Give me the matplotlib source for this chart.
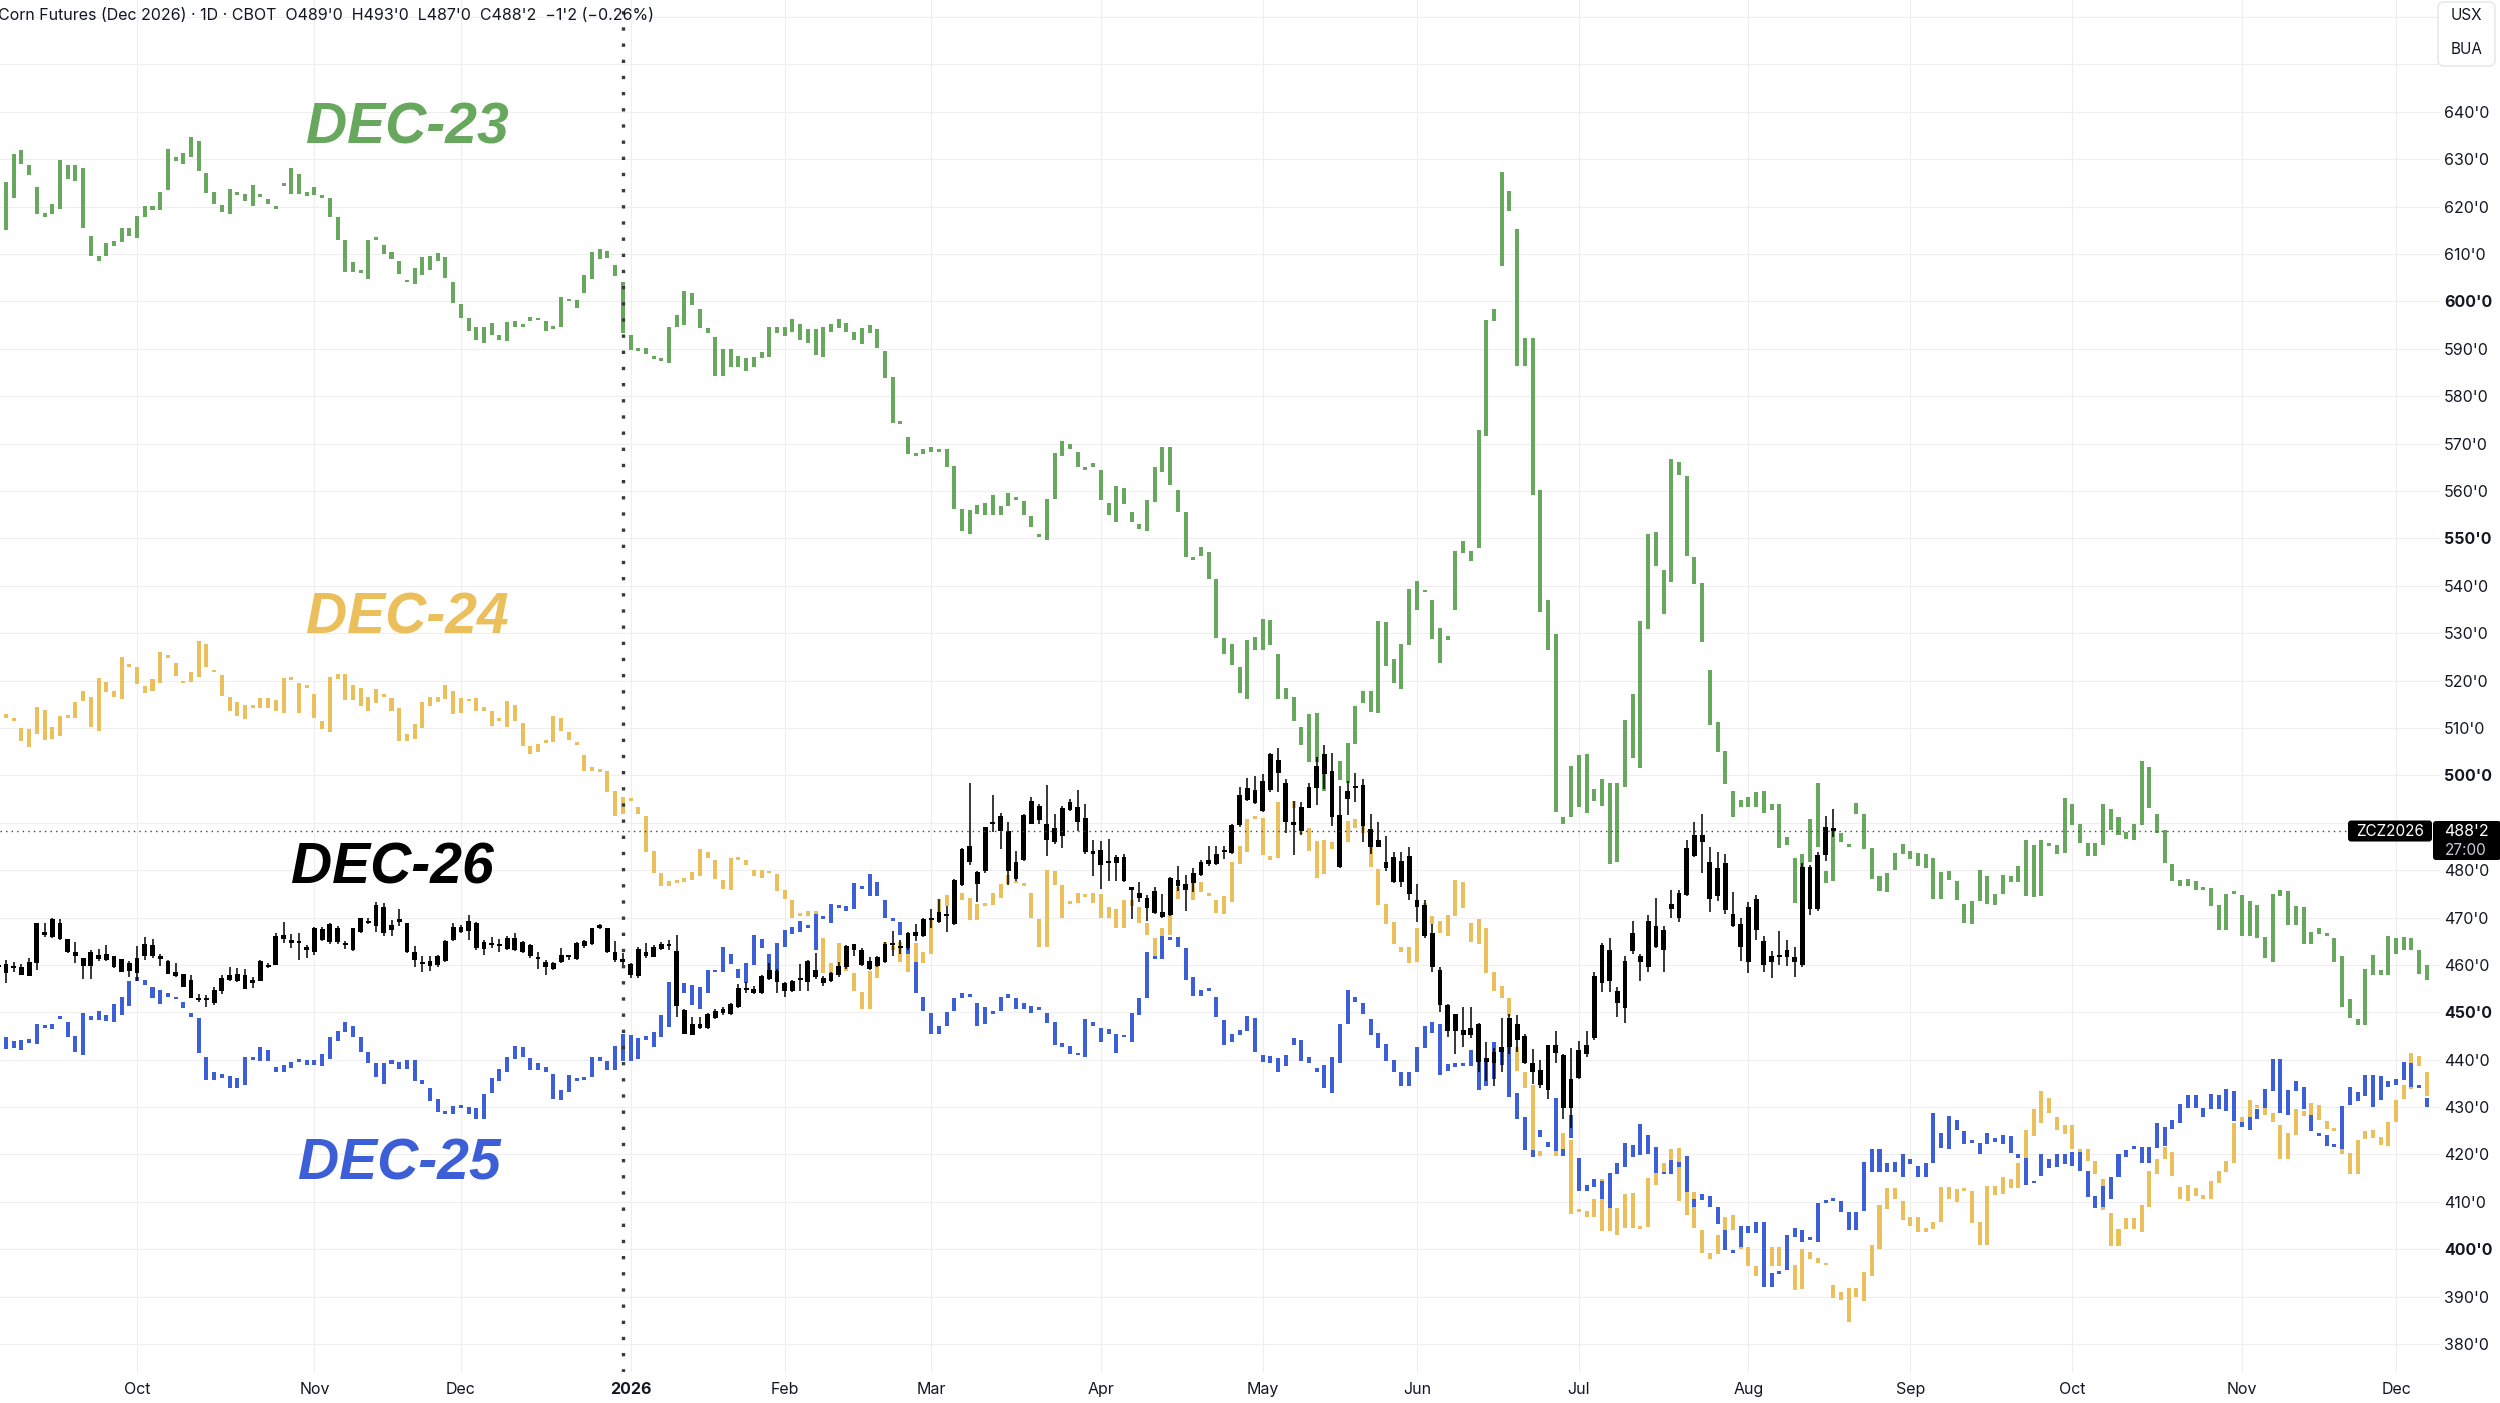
import numpy as np
import pandas as pd
import matplotlib
matplotlib.use("Agg")
import matplotlib.pyplot as plt
from matplotlib.patches import FancyBboxPatch
from matplotlib.transforms import IdentityTransform

plt.rcParams['font.family'] = ['Inter', 'DejaVu Sans']

# ---------------- data ----------------
title = "Corn Futures (Dec 2026) · 1D · CBOT  O489'0  H493'0  L487'0  C488'2  \u22121'2 (\u22120.26%)"
symbol = "ZCZ2026"
last_price = 488.25
last_price_label = "488'2"
countdown = "27:00"
unit_labels = ["USX", "BUA"]
series_names = ["DEC-23", "DEC-24", "DEC-25", "DEC-26"]

start_date = "2025-09-05"
end_date = "2026-12-31"
holidays = ["2025-11-27", "2025-12-25", "2026-01-01", "2026-01-19", "2026-02-16",
            "2026-04-03", "2026-05-25", "2026-06-19", "2026-07-03", "2026-09-07", "2026-11-26"]
month_keys = ["2025-10", "2025-11", "2025-12", "2026-01", "2026-02", "2026-03", "2026-04",
              "2026-05", "2026-06", "2026-07", "2026-08", "2026-09", "2026-10", "2026-11", "2026-12"]
month_labels = ["Oct", "Nov", "Dec", "2026", "Feb", "Mar", "Apr", "May", "Jun", "Jul",
                "Aug", "Sep", "Oct", "Nov", "Dec"]
year_divider_date = "2025-12-31"
price_levels = [v for v in range(380, 641, 10) if v != 490]
bold_levels = [400, 450, 500, 550, 600]
grid_levels = list(range(370, 661, 10))

# DEC-23 (open, close)
dec23_oc = [
(617,616),(615,625.1),(621.8,631.1),(631.9,629.1),(628.8,626.6),(624.2,618.5),(618.6,617.9),(618.5,620.6),(619.6,629.8),(628.8,625.8),
(625.5,628.8),(628.2,615.4),(613.7,609.5),(609.6,608.6),(609.5,612.4),(611.6,612.8),(612.6,615.4),(615.4,613.7),(613.3,618),(617.9,620.1),
(620.1,619.3),(619.3,623),(623.5,632.1),(630.5,629.7),(629.1,631.4),(630.4,634.6),(633.9,627.5),(627.2,622.9),(623,620.5),(620.4,618.9),
(618.5,623.7),(623,622.5),(622.6,621.1),(620.1,624.6),(622.3,622.1),(621.6,620.6),(620.2,619.6),(624.4,624.9),(622.7,628.1),(626.9,622.7),
(623,622.3),(622.5,624.2),(622.2,621.9),(621.9,617.9),(617.8,613),(613,606.3),(606.3,608.4),(606.5,606),(604.7,613),(613.3,613),
(611.9,610),(610.4,608.9),(608.6,605.8),(604.2,604),(603.6,607),(605.6,609.3),(609.6,606.7),(608.6,610.2),(609.3,604.9),(604.2,599.6),
(599.5,596.5),(596.5,593.8),(594.5,591.8),(591.2,594.7),(595.4,593),(593,591.8),(591.6,595.6),(595.8,594.5),(594.8,594.6),(595.8,596.7),
(596.4,596),(595.8,593.7),(594.7,594.2),(594.5,600.9),(600.6,600),(600.4,598.6),(601.8,605.6),(604.7,610.5),(611,608.9),(609.1,610.7),
(607.7,605.3),(604.2,593.3),(593,589.8),(589.8,589.6),(590.2,588.8),(588.1,587.8),(587.8,587.4),(587.1,594.5),(594.5,597.1),(595,602.3),
(601.7,599.2),(598.5,594.4),(594.3,593.3),(592.4,584.2),(584.2,589.9),(589.9,586.2),(588.5,586.2),(585.4,588),(586.2,588.2),(588,589.4),
(588.2,594.7),(594.7,593.3),(592.7,594.7),(596.3,593.6),(595.2,591.8),(594.1,591.3),(594.1,588.7),(588.2,594.7),(593.6,595.2),(594.4,596.3),
(595.5,593.6),(593.6,591.8),(591,594.3),(595,593.3),(594.1,590.1),(589.5,583.8),(584,574.4),(574.3,574.1),(571.4,567.9),(567.8,567.4),
(567.8,568.8),(569.2,568.3),(568.9,568.3),(568.9,565.1),(565.2,556.1),(556.2,551.6),(551,556),(555.2,557),(557.4,554.9),(554.9,559.1),
(556.8,554.9),(556.8,559.6),(558.3,558.1),(557.9,554.9),(554.8,552.4),(550.9,550.2),(549.6,558.4),(558.4,568.1),(567.4,570.6),(570,568.8),
(568.3,565.1),(564.7,564.5),(565,565.8),(564.4,558.1),(557.4,554.9),(553.5,561),(560.7,557.2),(555.6,553.5),(553,551.9),(551.6,558.2),
(557.7,565),(564,569.2),(569.2,561.2),(560.2,555.6),(555.6,546),(546,545.4),(546.2,548.1),(547.2,541.5),(541.5,528.9),(528.9,525.7),
(527.7,523.2),(522.9,517.4),(516.2,528.5),(526.5,529.1),(526.4,532.9),(532.8,527.5),(525.5,516.2),(518.5,516.2),(516.6,511.4),(510.2,506.4),
(512.9,502.9),(513.2,502.9),(502.9,496.6),(500.5,497.5),(499,503),(498.4,506.9),(506.6,514.6),(515.2,517.8),(517.8,513.4),(513.2,532.5),
(532.3,523.1),(524.5,519.5),(518.3,527.8),(527.5,539.3),(541.1,534.8),(538.9,538.6),(537.1,528.8),(531.1,523.8),(529.5,528.5),(534.8,547.4),
(549.4,547),(547.4,545.2),(548,572.9),(571.6,596),(595.8,598.5),(607.5,627.4),(623.4,619.1),(615.2,586.3),(586.3,592.3),(592.3,559.2),
(560.2,534.5),(537.1,526.5),(529.8,492.3),(491.3,489.7),(491.3,501.9),(504.2,493.4),(492,504.6),(497.2,494.6),(493.6,499.2),(498.4,481.3),
(481.7,498.4),(497.6,511.6),(503.6,517.2),(501.6,532.5),(530.8,551),(551.4,544.2),(543.4,534.1),(540.8,566.7),(566.2,563.4),(563.2,546.2),
(546,540.3),(540.5,528.1),(522.3,510.6),(511.2,504.9),(505.2,498.2),(496.6,491.3),(494.9,493.4),(493.4,495.4),(496.4,493.4),(492,496.6),
(494,492.7),(494,484.7),(487,485.3),(482.5,473.1),(477.2,483.4),(481.8,490.8),(484.8,498.3),(479.9,477.2),(477.6,488.2),(487.9,485.9),
(485.5,484.8),(491.9,494.2),(491.9,484.4),(484.7,478.2),(478.8,475.5),(475.3,479.3),(480,483.6),(485.6,483.4),(484,482.4),(483.6,480.8),
(480.4,483.4),(482.6,473.9),(473.9,479.6),(479.8,477.9),(477.7,473.7),(472.9,468.8),(468.7,473.5),(473.5,480),(478.8,472.9),(472.7,475),
(475,479),(478.8,477.4),(477.4,480.9),(474.5,486.3),(485.2,474.3),(474.5,486.4),(485.8,485),(485.2,483.4),(483.6,495.3),(493.9,489.5),
(489.7,485.8),(485.8,483),(483,485.8),(485.2,493.9),(492.9,488.4),(491.3,487.4),(488,486.6),(486.3,489.7),(489.5,503),(501.8,493.1),
(491.9,487.9),(488.4,481.6),(481.2,477.7),(477.9,476.7),(476.7,478.2),(477.7,475.8),(476.3,475.8),(476.3,472.5),(472.7,467.4),(467.4,475),
(475.1,474.9),(474.7,466.1),(466.2,473.5),(472.7,465.6),(465.8,461.4),(460.7,475),(475.8,474.5),(475.5,468.5),(468.5,472.5),(472.3,464.5),
(464.5,467),(467.7,466.6),(466.3,466.1),(465.6,460.7),(461.8,451.1),(452.9,448.9),(448.5,447.3),(447.3,459.1),(457.8,462),(459,457.8),
(457.8,466.2),(465.6,462.2),(463.2,465.8),(465.6,463.2),(463.2,458),(459.9,456.9),
]

# DEC-24 (open, close)
dec24_oc = [
(513.3,508),(512.9,512.2),(512.1,511.5),(510,507.3),(505.9,509.8),(508.7,514.4),(513.8,507.5),(507.7,510.1),(508.4,512.6),(512.6,512.1),
(512.2,515.4),(515.6,517.7),(516.5,510.1),(509.4,520.5),(519.6,517.5),(517.7,516.5),(516.1,524.9),(523.1,522.8),(522.8,519.3),(518.9,517.3),
(517.7,520.3),(519.4,526.1),(525.4,524.7),(523.8,521),(520,519.4),(519.6,521.7),(520.8,528.4),(527.7,522.8),(522.1,521.7),(521.2,516.8),
(516.5,513.6),(515.4,512.6),(514.9,511.9),(514.5,514.3),(514.2,516.3),(516.3,514.2),(515.8,513.5),(513.1,520.6),(520.5,520.1),(519.4,513.1),
(519.1,518.4),(517.2,512.2),(511.5,509.8),(509.1,520.7),(521.4,520.3),(521.4,515.8),(519.1,515.8),(518.4,514.7),(516.5,513.6),(515.2,518.2),
(517,516.6),(516.3,513.6),(514.2,507.2),(507.3,508.7),(507.7,510.8),(510,515.4),(514.7,516.5),(516.5,515.4),(516.1,519.1),(517.7,512.9),
(513.1,516.3),(516.1,515.6),(516.3,513.6),(514.5,513.6),(513.6,510.5),(512.2,511.5),(510.3,515.6),(514.9,511.4),(511,506.1),(506.1,504.4),
(504.9,506.6),(507.3,506.8),(507,512.6),(512.2,509.3),(509.1,507.5),(507,506.3),(504.2,501),(501.7,501),(501.4,500.7),(501,496.5),
(496.7,491.5),(495.4,491.9),(494.9,494.6),(493.3,491.9),(491.5,483.8),(484,479.3),(479.3,476.6),(477.7,476.6),(477.3,478),(477.5,478.4),
(478,479.6),(478.7,484.5),(483.8,482.6),(482.2,478.2),(478,476.1),(475.9,482.6),(482.3,482.1),(482.1,481),(480.1,478.7),(478.4,480),
(479.6,479.3),(479.1,475.6),(475.8,474),(473.8,470),(471,470.3),(470.3,471.4),(471.4,465.9),(465.6,458.2),(458.2,460.3),(459.8,464.7),
(460.7,458.7),(458.2,454.5),(454.3,450.6),(450.8,458.7),(457.3,460.3),(460.9,464.9),(464,463.2),(460.6,464.9),(463.5,458.5),(460.6,464.7),
(462.8,460.4),(462.3,469.6),(469.6,474),(474.7,472.4),(474.7,475.4),(475.1,473.6),(474.2,469.4),(469.4,472.8),(472.7,472.5),(472.6,475.2),
(474.2,477),(477,478.9),(477.4,477.2),(476.9,476.7),(475.2,469.8),(469.6,463.8),(463.8,480.1),(479.8,476.8),(476.8,469.8),(473.3,472.8),
(473.1,475.2),(474.9,474.4),(473.1,475.1),(474.9,470),(470,472.2),(471.7,467.7),(467.7,473.8),(473.8,472.4),(472.2,468.9),(468.9,466.3),
(465.6,461.3),(461.6,467.7),(466.3,470.5),(474,476.5),(476.8,476.1),(473.6,477.5),(477.5,475.4),(475.2,474.5),(473.8,471),(470.8,474.5),
(473.3,481.7),(481.2,485),(483.8,490.7),(491,490.8),(490.9,483.1),(482.9,482.1),(482.5,494.4),(491.2,490.4),(493.2,494.6),(490.4,487.6),
(488.9,484),(486.1,478.4),(479.1,486.4),(485.9,484.4),(486,489),(485.9,490.4),(490.7,488.9),(489.3,487.8),(485.2,480.6),(480.3,472.7),
(472.9,468.6),(469,464.4),(463.7,462.8),(460.5,463.8),(460.7,467.8),(469,473),(470.3,468.6),(469.3,466.8),(466.1,470.6),(470.3,478),
(477.4,472.1),(468.8,464.8),(464.4,469.6),(467.8,458.3),(458.6,454.5),(455.5,453),(453.1,449.2),(442.6,437.7),(437.5,434.1),(434.7,420.7),
(420.7,419.6),(422.4,421.5),(421.5,419.6),(419.8,424.5),(423.1,407.5),(408.3,407.9),(408.1,406.8),(406.8,410.5),(414.8,403.8),(403.8,415.8),
(408.7,403),(404.5,411.7),(411.8,404.5),(404.7,404.3),(404.7,415.1),(413.6,417.3),(416.1,418.1),(418.5,421.1),(421.3,410.2),(412.3,407.2),
(404.5,412.1),(404.1,399.2),(399.2,398),(398.9,403),(402,406.8),(407.2,404),(403.5,400),(400.5,396.5),(396.5,394.3),(394,401),
(400.5,396.5),(396.5,400.4),(400.5,395.7),(396.6,391.5),(391.7,400),(399.5,398),(398.1,397.2),(397.2,396.6),(392.5,389.8),(391,389.2),
(391.9,384.7),(391.8,389.9),(389.1,395.3),(394.3,400.8),(400,409.3),(408.5,412.9),(412.9,410.5),(410.1,406.1),(406.9,405),(406.9,403.6),
(404.4,403.6),(405.8,404.2),(405.8,413.1),(413.1,410.5),(412.8,409.9),(412.9,412.3),(412.3,405.5),(405.8,401),(401,413.3),(413.3,411.5),
(411.7,415.3),(414.9,412.9),(412.9,418.2),(413.7,425.2),(423.8,429.5),(426.7,433.3),(431.9,428.7),(427.9,425.2),(426.3,424.4),(426.3,421.2),
(421.2,420.2),(421.2,418.7),(418.7,415.8),(414.9,408.2),(407.7,400.6),(400.6,404.2),(404.2,406.6),(406.6,404.2),(403.6,409.3),(408.9,416.6),
(415.8,419),(419,421.6),(420.6,415.5),(413.1,410.7),(410.1,413.6),(412.9,411.3),(411.5,410.7),(410.7,414.4),(413.9,416.6),(416.2,418.6),
(418.2,426.7),(425.8,427.9),(427.9,431.5),(430.3,429.9),(429.9,428.4),(428.7,426.8),(426.3,419),(419,424.6),(424.2,429.5),(429.2,428.1),
(427.3,430.9),(430.5,427.3),(427.1,425.4),(425.4,425),(424.6,420.2),(420.4,415.8),(415.8,423),(423.3,425),(423.4,425.2),(423.6,422),
(421.8,426.8),(426.8,431.4),(431.7,434.7),(433.9,441.4),(440.8,438.6),(437.3,432.3),
]

# DEC-25 (open, close)
dec25_oc = [
(445.3,443.5),(444.8,442.3),(443.9,442.5),(444.1,442.1),(444.4,443.5),(443.4,447.6),(447.2,446.7),(446.4,447.6),(448.8,448.6),(447.9,444.8),
(444.9,441.6),(440.9,449.9),(449.3,448.3),(448.3,450.2),(449.5,448.1),(447.9,451.8),(449.5,453.2),(451.4,456.5),(457.4,456.7),(456.9,455.8),
(455.3,453),(454.6,451.8),(454.1,453.2),(452.9,452.7),(452.1,450.9),(449.9,449),(448.8,441.4),(440.6,435.8),(437.4,435.8),(436.9,436.2),
(436.5,434.1),(434.1,436.2),(434.6,440.6),(440.6,440),(439.7,442.7),(442.1,439.7),(438.5,437.4),(437.4,438.8),(438.3,439.5),(439.8,439.6),
(438.8,440),(440,438.8),(438.6,441.3),(440.2,444.8),(443.9,446),(445.8,447.9),(447.1,444.8),(444.8,441.6),(441.6,439.2),(439.3,436.4),
(434.9,439.3),(440,439),(439.5,438.1),(438.1,440),(440,435.5),(435.8,434.8),(434.1,431.3),(431.6,428.9),(428.8,428.6),(428.5,430.2),
(430.4,429.9),(430.1,428.5),(429.9,427.4),(427.4,432.7),(433,436.2),(435.5,438.1),(437.4,440.6),(440.2,442.8),(442.7,440.6),(440.4,437.8),
(439.2,437.8),(438.5,437.4),(436.9,431.8),(431.5,433.6),(433.2,436.7),(436.2,435.5),(435.8,436.2),(436.4,440.6),(440.6,439.7),(439.7,437.8),
(437.8,442.8),(439.7,445.5),(445.3,439.7),(440.2,444.6),(445,444.1),(445.9,442.6),(444.8,449.4),(446.9,456.4),(456.4,451.5),(454.1,456.2),
(455.7,451.5),(450.6,455.4),(454,458.9),(458.6,458.4),(458.5,463.7),(462.4,460.2),(459.2,457.3),(456.2,460.3),(459.9,466.3),(465.4,463.5),
(462.3,458.2),(456.4,464.7),(463.7,467.3),(466.6,468),(467,469.3),(468.4,467.7),(470.7,463.2),(469.9,469.7),(468.9,472.9),(472.6,472.1),
(471.4,472.4),(471.9,477.2),(476.2,476),(474.5,479.1),(477.5,474.5),(473.8,470),(469.5,469.3),(469.1,466.3),(465.2,462.3),(460.6,454),
(453.3,450.3),(449.8,445.5),(445.5,447.1),(447.1,450.1),(450.3,453.1),(453.1,454.1),(453.5,453.3),(452,447.1),(447.5,451.2),(450.1,449.6),
(450.3,453.3),(453.8,453.1),(453.1,450.6),(452,450.6),(451.3,449.9),(450.7,450.5),(449.9,447.8),(448,443.1),(443.6,442.6),(442.9,441.3),
(441.1,440.9),(440.6,448.5),(448,447.1),(446.6,443.8),(446.4,445.4),(445.4,441.5),(444.9,444.7),(443.8,449.8),(449.4,453.1),(453.1,462.8),
(461.4,461.2),(461.3,466.1),(465.5,465.3),(463.7,465.9),(463.5,456.9),(457.5,453.4),(454.8,453.4),(454.8,454.5),(453.3,449.1),(448.3,443.1),
(443.8,445.4),(446.2,445.2),(446.1,449.2),(448.7,441.7),(441,439.6),(439.4,440.7),(440.3,437.3),(438.7,440.9),(443,444.5),(444.2,439.7),
(440.5,439.2),(438.2,437.3),(438.8,434.1),(432.9,440.5),(439.2,447.5),(447.5,454.6),(453.3,452.2),(452,449.7),(448.5,445.2),(445.7,442.4),
(443.3,439.7),(439.9,437.3),(437.3,434.4),(434.4,437.3),(437.3,442.7),(442.4,447.2),(448,445.7),(447.5,436.7),(439,437.7),(438.4,439.2),
(439.4,438.7),(438.7,442),(442,433.7),(434.4,440.3),(443.7,435.9),(438.8,442.7),(442.6,432.2),(432.9,427.5),(427.9,420.9),(420.9,419.4),
(423.7,425.1),(422.6,421.5),(420.7,432),(421.1,419.6),(423.4,428.4),(419.2,412.3),(413.6,412.3),(414.8,413.2),(414.3,410.5),(408.7,416),
(415.8,418.1),(417.3,422.4),(421.9,419.4),(419.8,426.4),(424.1,420.1),(421.6,416),(416.2,415.8),(415.8,418.8),(418.5,417.3),(419.6,412.1),
(410.5,409),(411.7,410.3),(411.3,409),(409,405.3),(404,399.8),(399.8,399.2),(400.4,405),(404.9,403.4),(403.4,405.7),(405.7,392.1),
(392.1,394.9),(395,394.8),(395.7,403),(404.5,402.6),(401.5,404),(402.3,401.9),(401.5,409.8),(409.9,409.7),(410.9,410.2),(410.2,407.8),
(407.8,404),(404,407.9),(408.1,418.5),(416.2,421.2),(421.2,416.2),(416.2,418.2),(418.4,416.2),(415.3,420.2),(419,417.9),(417.6,415.3),
(415.3,418.2),(418.2,428.7),(424.6,421.4),(421.2,428.1),(427.3,425.2),(424.9,422.2),(422.6,422.4),(422.5,420),(422.2,424.6),(423.4,422.6),
(422.2,424.1),(423.8,420.4),(420,419.2),(419.2,413.6),(414.5,413.9),(415.5,420.2),(419,417.1),(417.4,420.2),(420.2,417.9),(417.6,420.6),
(420.6,416.6),(416.6,411.1),(411.3,408.7),(408.9,413.3),(410.7,415.2),(415.2,420.2),(419.5,421),(421.6,421.2),(421.6,418.2),(418.2,421.6),
(421.4,426.7),(425.8,421.8),(425.4,427.3),(426.7,430.7),(429.9,432.5),(432.5,429.9),(429.9,427.9),(429.5,432.8),(432.5,429.5),(429.2,433.9),
(433.3,427.1),(426.8,425.7),(425.2,427.9),(427.5,429.5),(429.9,433.9),(433.3,440.2),(440.2,428.7),(428.3,433.5),(433.3,435.4),(434.3,429.7),
(428.3,424.9),(424.6,423.8),(424.2,421.8),(422.2,421.6),(421.2,430.3),(430.5,434.3),(433.1,431.3),(432.3,436.8),(436.8,430.1),(431.5,436.5),
(435.4,434.3),(434.7,436),(435.7,439.6),(439.4,434.3),(434.2,434),(432,430.1),
]

# DEC-26 (open, close, high, low)
dec26_ochl = [
(460,459.5,461,458.5),(460.1,458.2,461.1,456.1),(459.6,459.3,460.7,458.6),(459.6,457.9,460.2,457.9),(460.7,457.7,461.4,457.7),(468.9,460.5,468.9,458.9),(467,466.3,468.8,465.8),(469.6,465.8,469.8,465.6),(468.8,465.4,469.6,465.3),(465.4,462.8,465.4,462.6),
(462.8,461.9,464.9,460.5),(461.4,459.8,461.4,457),(462.8,459.8,463.2,457),(462.1,461.2,463.3,460.9),(462.3,461.1,464.2,460.9),(461.8,459.6,461.9,459.3),(461.2,458.4,461.2,458.4),(460.5,458.8,460.9,457.5),(461.4,458.2,463.9,456.5),(464.4,461.8,465.8,461.1),
(464.2,461.8,465.4,461.4),(461.8,461.2,462.3,459.8),(460.9,458.1,461.1,458.1),(458.6,457.7,460.4,457.5),(458.1,455.3,458.1,455.3),(456.8,453,457.9,453),(452.8,452.6,453.9,452.1),(452.8,452.6,453.7,451.2),(454.7,451.9,455.4,451.6),(457.2,454.4,457.9,453.9),
(457.9,456.8,459.6,456.5),(458.1,456.5,459.3,456.3),(457.9,454.9,459.1,454.9),(456.8,456.1,457.4,455.1),(460.9,456.7,461.1,456.5),(460,459.6,460.5,459.3),(466.1,460,466.8,460),(466.3,465.4,469.1,464.6),(464.9,464.7,466.5,463.5),(464.7,464.6,466.7,461.1),
(463.7,463.2,464.2,461.4),(467.7,462.8,467.9,462.1),(467.5,465.3,468.1,465.1),(468.6,464.9,468.9,464.4),(467.7,464.9,468.2,464.4),(464.4,464.2,465.1,463.3),(467.7,463.2,467.7,463),(469.8,467,470,466.8),(469.3,468.8,469.8,468.6),(472.6,468.2,473.3,467),
(472.3,466.7,473.1,466),(468.4,467.4,469.5,466),(469.6,469.1,471.7,468.2),(468.8,462.8,468.8,462.6),(462.8,461.1,464,459.6),(460.5,460.2,461.9,458.6),(460.9,459.8,461.8,458.8),(461.9,460,462.1,459.6),(465.1,460.9,465.3,460.7),(468.1,465.3,468.8,465.1),
(468.1,467,468.4,466.8),(469.3,467.2,470.5,465.3),(468.9,463.5,469.1,463.2),(464.9,463.3,465.3,462.1),(464.4,464.2,465.8,463.5),(464.2,463.9,465.4,462.8),(465.6,463.3,466,463.2),(465.6,463.2,466.7,463),(464.9,462.8,465.1,462.6),(464.2,461.8,464.4,461.4),
(461.4,461.2,462.8,459.1),(460.7,459.6,461.1,457.9),(460.4,459.1,460.7,458.9),(462.1,460.7,463.5,460.5),(461.8,461.6,462.1,461.1),(464.6,461.2,464.9,461.1),(465.1,463.9,465.3,463.5),(467.7,464.4,467.7,464.2),(468.4,467.7,468.6,467.5),(467.7,462.8,467.7,462.6),
(462.8,461.1,465.1,460.7),(460.9,460.7,462.5,459.6),(460.2,457.9,460.5,457.2),(463.3,457.7,463.7,457.2),(462.8,461.8,464.6,461.4),(463.7,461.7,464.2,461.6),(464.4,463.3,464.9,463.1),(464.2,464,465.2,463.2),(463,451.3,466.3,449.1),(450.5,445.5,450.8,445.4),
(447.5,445.2,449.1,445.2),(447.6,446.6,449.1,446.4),(449.6,446.6,449.9,446.4),(450.3,448.7,450.6,448.5),(450.6,449.8,451.2,449.4),(451.7,449.6,451.9,449.4),(455.2,451.2,455.9,451),(455,454.7,456.4,454),(455,454,455.5,453.8),(457.6,454,457.8,453.8),
(458.9,457.1,460.4,456.8),(458.7,456.4,459.2,454.1),(456.2,454.5,456.4,453.3),(456.6,454.5,456.9,454.3),(457.3,456.8,460.2,454.5),(460.9,456.4,461.1,454.5),(458.9,457.5,462.5,457.1),(457.3,456.1,457.6,455.5),(458.2,456.6,458.5,456.4),(459.7,457.8,460.6,457.5),
(463.9,459.6,464.2,459.2),(464.4,463.1,464.5,461.8),(463.1,459.9,463.5,459.7),(460.9,459.2,461.6,458.9),(461.6,459.7,461.8,459.6),(464.4,460.6,464.9,460.4),(464.4,464.2,467.2,461.8),(463.8,463.5,465.2,462.3),(466.8,463.5,467,463.2),(467,466.1,468.7,465.1),
(469.6,466.1,469.8,465.9),(469.6,469.4,471.9,467.7),(471.2,469.1,474,468.9),(470.5,470.3,472.4,467),(478,468.6,478.2,468.4),(484.5,476.8,484.7,476.6),(485,481.7,498.4,481),(479.6,477,479.8,473.3),(489,479.8,489.2,479.3),(490,489.8,495.8,488.1),
(491.4,488.3,492.1,484.5),(488.3,479.8,490.2,476.8),(481.7,478.2,484,477.7),(491.6,482.1,491.9,481.9),(494.6,489.8,495.4,489.7),(493.5,490.5,493.9,489.7),(489.8,486.4,497.9,482.9),(488.8,485.9,491.9,485.5),(493.2,487.1,493.5,484.7),(494.4,492.6,495.1,492.5),
(493.3,490.2,496.8,488.3),(490.9,483.8,494,483.3),(484,483.5,486.3,478.7),(484.3,481,486.2,476.1),(481.5,481.4,486.6,477.7),(482.8,481.5,483.1,477.7),(482.8,477.7,483.3,477.5),(476.1,475.9,476.5,469.6),(475.2,474.2,477.5,473.3),(474.2,472.1,474.7,469.3),
(475.6,471,476.5,470.7),(471.2,470.1,475,469.8),(478.4,470.5,478.6,470.3),(477.9,476.6,480.8,475.6),(477,475.9,478.9,471.4),(479.4,477.3,480.5,475.4),(481.7,478.9,482.2,478.7),(482.2,481.2,485,480.8),(483.3,481.2,485,481),(484.2,483.8,485,482.4),
(489.5,483.6,489.7,483.3),(495.8,489.5,497.5,489.2),(497.4,494.9,499.5,494.6),(496.8,494.2,499.8,494),(498.8,492.5,500.2,492.3),(504.4,496.8,504.7,496.5),(503.2,500.5,505.7,496.5),(498.3,490.2,499.2,487.9),(489.9,489.6,494.6,483.1),(493.4,488.2,494.4,487.4),
(497.6,493.2,498.3,493.1),(502,497.4,503.8,493.8),(504.5,500.2,506.3,497.2),(501,491.2,504.7,489.3),(491.6,480.6,497.7,480.4),(496.7,495,498.7,491.7),(497.7,497.4,500.5,494.4),(498,489.3,499.2,485.9),(488.7,484.9,491.9,483.4),(486.3,484.9,490.2,484.8),
(481.8,480.4,487.2,479.9),(482.7,477.4,483.9,477.2),(481.9,477.4,483.9,476.5),(482.9,475,484.9,473.6),(473.6,472.3,477.1,469.1),(472.6,466.1,473.6,465.6),(466.7,459.5,468.6,458.6),(459,451.6,459.5,450),(451.6,446,451.8,444.7),(449.7,446,449.7,441.2),
(446.2,445.2,451.2,442.7),(446.7,445.2,451.2,444.5),(447.5,439.6,447.7,437.3),(440.3,439.6,443.7,435.6),(441.7,439.2,442.4,434.4),(442.6,441.7,448.8,437.5),(448.8,442.7,449.7,441.2),(447.5,444.1,449.4,441.7),(445,439.4,445.4,439),(439.2,437.3,442.2,434.9),
(437.9,434.7,439.9,434.1),(443,433.7,443.2,431.6),(443,441.4,446,439.4),(440.9,429.9,441.1,427.4),(435.9,429.9,442.4,425.6),(442,436.2,443.9,435.9),(443,441.2,446,440.5),(457.6,444.5,458.6,444.2),(464.1,456.1,464.6,454.3),(463.1,456.5,465.6,454.3),
(454.5,452,455.4,449),(460.8,450.9,461.8,447.7),(466.8,462.9,469.3,462.2),(461.8,460.7,462.3,456.7),(469.3,459.5,470.6,458.6),(468.3,463.8,474.1,463.5),(467.3,463.1,468.2,458.6),(472.9,471.8,475.9,469.9),(475.1,469.9,475.9,469),(484.6,474.8,486.3,474.6),
(487.4,482.9,490.2,482.7),(487.4,485.9,491.9,479.4),(481.8,473.9,484.9,471.2),(480.4,474.6,483.9,473.5),(481.4,471.6,483.4,470.8),(470.8,468.3,475.4,468),(468.6,463.8,469.9,460.8),(472.3,460.7,473.3,458.3),(473.9,467.4,474.8,465.2),(465,459.9,466.1,458.6),
(461.8,460.7,462.9,457.3),(461.8,461.6,467.1,459.9),(463.1,461.6,465.3,459.8),(461.6,460.7,463.8,457.5),(480.6,459.9,481.4,459.5),(480.6,471.8,481,470.5),(483.1,471.8,483.9,471.4),(489.1,483.1,491.4,481.9),(488.9,488.2,492.9,487),
]

# ---------------- style ----------------
W, H = 2500, 1403
C_GREEN = "#68a85e"
C_YELLOW = "#ebc05c"
C_BLUE = "#3c5ed6"
C_BLACK = "#000000"
C_TEXT = "#131722"
C_GRID = "#eeeeee"

fig = plt.figure(figsize=(W / 100, H / 100), dpi=100)
fig.patch.set_facecolor("white")
plot_bottom_px = 1372
plot_right_px = 2440
ax = fig.add_axes([0, (H - plot_bottom_px) / H, plot_right_px / W, plot_bottom_px / H])
ax.set_facecolor("white")

# trading calendar
days = pd.bdate_range(start_date, end_date)
days = days[~days.isin(pd.to_datetime(holidays))]
ym = days.strftime("%Y-%m")
month_pos = [int(np.argmax(ym == k)) for k in month_keys]
divider_pos = int(np.where(days == pd.Timestamp(year_divider_date))[0][0])

ax.set_xlim(0.22, 316.7)
ax.set_ylim(374.1, 663.6)

for lv in grid_levels:
    ax.axhline(lv, color=C_GRID, lw=0.8, zorder=0)
for p in month_pos:
    ax.axvline(p, color=C_GRID, lw=0.8, zorder=0)


def draw_bodies(oc, color, width, z):
    arr = np.array(oc, dtype=float)
    o, c = arr[:, 0], arr[:, 1]
    lo = np.minimum(o, c)
    hgt = np.maximum(np.abs(c - o), 0.6)
    ax.bar(np.arange(len(arr)), hgt, bottom=lo, width=width, color=color,
           linewidth=0, zorder=z, antialiased=True)


draw_bodies(dec23_oc, C_GREEN, 0.52, 2)
draw_bodies(dec24_oc, C_YELLOW, 0.52, 3)
draw_bodies(dec25_oc, C_BLUE, 0.52, 3.5)

blk = np.array(dec26_ochl, dtype=float)
xb = np.arange(len(blk))
ax.vlines(xb, blk[:, 3], blk[:, 2], color=C_BLACK, lw=1.1, zorder=5)
lo = np.minimum(blk[:, 0], blk[:, 1])
hg = np.maximum(np.abs(blk[:, 0] - blk[:, 1]), 0.45)
ax.bar(xb, hg, bottom=lo, width=0.62, color=C_BLACK, linewidth=0, zorder=5.1)

# dotted lines
ax.axvline(divider_pos, color="#3a3a3a", lw=2.4, ls=(0, (1, 3.85)), zorder=6)
ax.axhline(last_price, xmin=0, xmax=2348 / plot_right_px, color="#444444", lw=1.0,
           ls=(0, (1, 3)), zorder=6)

# axes ticks
for s in ax.spines.values():
    s.set_visible(False)
ax.yaxis.tick_right()
ax.set_yticks(price_levels)
ax.set_yticklabels([f"{v}'0" for v in price_levels])
ax.tick_params(axis="y", length=0, pad=3, labelsize=11.5, labelcolor=C_TEXT)
for t, v in zip(ax.get_yticklabels(), price_levels):
    if v in bold_levels:
        t.set_fontweight("bold")
ax.set_xticks(month_pos)
ax.set_xticklabels(month_labels)
ax.tick_params(axis="x", length=0, pad=7, labelsize=11.5, labelcolor=C_TEXT)
for t, lab in zip(ax.get_xticklabels(), month_labels):
    if lab == "2026":
        t.set_fontweight("bold")

# header
fig.text(-2 / W, 1 - 15 / H, title, fontsize=11.5, color=C_TEXT, ha="left", va="center")

# series labels
label_font = dict(family=["Liberation Sans", "DejaVu Sans"], weight="bold", style="italic", fontsize=41)
label_specs = [(series_names[0], 306, 128, C_GREEN),
               (series_names[1], 306, 619, C_YELLOW),
               (series_names[2], 298, 1164, C_BLUE),
               (series_names[3], 291, 869, C_BLACK)]
for name, px, py, col in label_specs:
    fig.text(px / W, 1 - py / H, name, color=col, ha="left", va="center", zorder=8, **label_font)

# price labels on the right
fig.canvas.draw()
ident = IdentityTransform()
y_disp = ax.transData.transform((0, last_price))[1]
zbox = FancyBboxPatch((2348, y_disp - 10.5), 84, 21, boxstyle="round,pad=0,rounding_size=3",
                      transform=ident, fc="#000000", ec="none", zorder=20)
fig.add_artist(zbox)
fig.text(2390, y_disp, symbol, transform=ident, color="white", fontsize=11,
         ha="center", va="center", zorder=21)
pbox = FancyBboxPatch((2433, y_disp - 29), 68, 39, boxstyle="round,pad=0,rounding_size=3",
                      transform=ident, fc="#000000", ec="none", zorder=20)
fig.add_artist(pbox)
fig.text(2466, y_disp, last_price_label, transform=ident, color="white", fontsize=11.5,
         ha="center", va="center", zorder=21)
fig.text(2466, y_disp - 19, countdown, transform=ident, color="#c8cbd3", fontsize=11,
         ha="center", va="center", zorder=21)

ubox = FancyBboxPatch((2438, H - 66), 57, 64, boxstyle="round,pad=0,rounding_size=6",
                      transform=ident, fc="white", ec="#e3e5ea", lw=1, zorder=20)
fig.add_artist(ubox)
fig.text(2466.5, H - 16, unit_labels[0], transform=ident, color=C_TEXT, fontsize=11,
         ha="center", va="center", zorder=21)
fig.text(2466.5, H - 50, unit_labels[1], transform=ident, color=C_TEXT, fontsize=11,
         ha="center", va="center", zorder=21)

fig.savefig("out.png", dpi=100, facecolor="white")
